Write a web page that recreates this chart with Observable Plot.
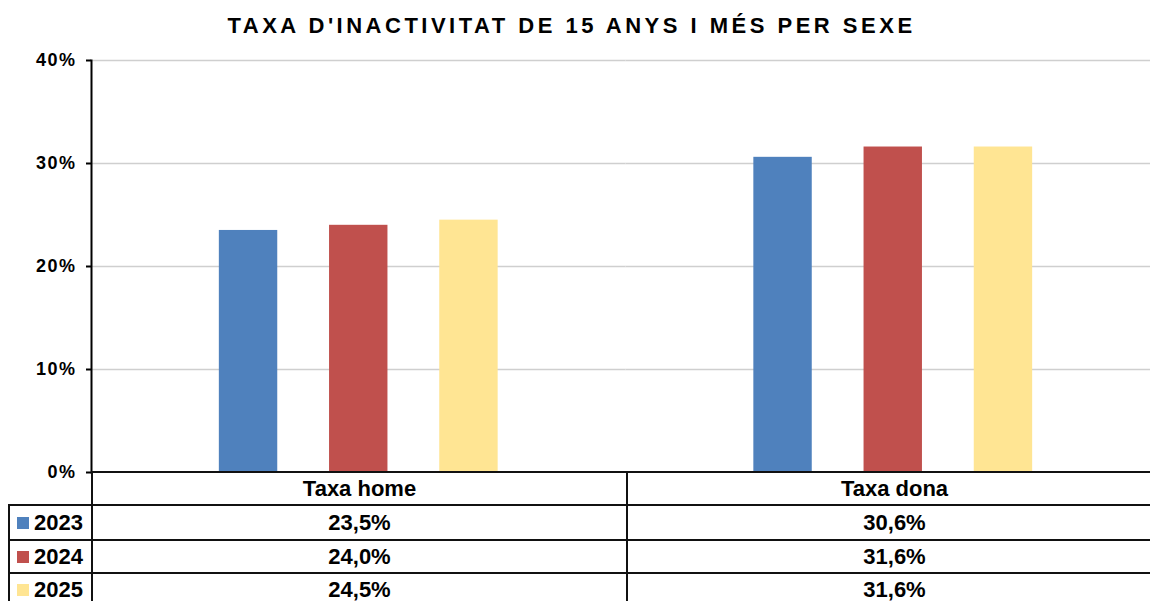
<!DOCTYPE html>
<html>
<head>
<meta charset="utf-8">
<script src="https://cdn.jsdelivr.net/npm/d3@7"></script>
<script src="https://cdn.jsdelivr.net/npm/@observablehq/plot@0.6"></script>
<style>
  html, body { margin: 0; padding: 0; background: #fff; overflow: hidden; }
  #wrap { position: relative; width: 1150px; height: 601px; overflow: hidden; font-family: "Liberation Sans", Arial, sans-serif; }
  #title { position: absolute; left: 0; top: 15px; width: 1143px; text-align: center; font-size: 22px; font-weight: bold; letter-spacing: 3.5px; color: #000; line-height: 22px; }
  #chart { position: absolute; left: 0; top: 40px; width: 1160px; }
  #chart svg { display: block; overflow: visible; max-width: none !important; }
  #chart svg [aria-label="y-axis tick label"] text { letter-spacing: 1.5px; }
  #tbl { position: absolute; left: 8px; top: 471px; width: 1153px; border-collapse: collapse; table-layout: fixed; font-family: "Liberation Sans", Arial, sans-serif; font-weight: bold; font-size: 22px; color: #000; }
  #tbl td { border: 2px solid #111; padding: 0; text-align: center; white-space: nowrap; overflow: hidden; }
  #tbl td.corner { border-top: none; border-left: none; }
  #tbl td.year { text-align: left; padding-left: 7px; }
  #tbl .sw { display: inline-block; width: 12px; height: 12px; margin-right: 5px; vertical-align: 1px; }
</style>
</head>
<body>
<div id="wrap">
  <div id="title"></div>
  <div id="chart"></div>
  <table id="tbl"></table>
</div>
<script>
const titleText = "TAXA D'INACTIVITAT DE 15 ANYS I MÉS PER SEXE";
const sexes = ["Taxa home", "Taxa dona"];
const years = ["2023", "2024", "2025"];
const taxaHome = [23.5, 24.0, 24.5];
const taxaDona = [30.6, 31.6, 31.6];
const yearColors = ["#4F81BD", "#C0504D", "#FFE593"];
const yTicks = [0, 10, 20, 30, 40];

document.getElementById("title").textContent = titleText;

const seriesBySex = {"Taxa home": taxaHome, "Taxa dona": taxaDona};
const data = [];
sexes.forEach(s => years.forEach((y, i) => data.push({sex: s, year: y, value: seriesBySex[s][i]})));

const M = {marginTop: 20, marginBottom: 18, marginLeft: 91, marginRight: 0};
const chart = Plot.plot({
  width: 1160,
  height: 450,
  ...M,
  style: {fontFamily: "Liberation Sans, Arial, sans-serif", fontSize: "18px", fontWeight: "bold", color: "#000", background: "transparent", maxWidth: "none"},
  fx: {domain: sexes, padding: 0, axis: null, round: false},
  x: {domain: years, paddingInner: 0.47, paddingOuter: 1.16, axis: null, round: false},
  y: {domain: [0, 40], axis: null},
  color: {domain: years, range: yearColors},
  marks: [
    Plot.gridY(yTicks.filter(d => d > 0), {stroke: "#cfcfcf", strokeOpacity: 1, strokeWidth: 1.6}),
    Plot.barY(data, {fx: "sex", x: "year", y: "value", fill: "year"}),
    Plot.axisY(yTicks, {...M, tickFormat: d => d + "%", tickSize: 5, tickPadding: 10, strokeWidth: 2, stroke: "#000", fill: "#000", fontSize: 18, fontWeight: "bold", label: null}),
    Plot.frame({...M, anchor: "left", facetAnchor: "left", stroke: "#000", strokeWidth: 2})
  ]
});
document.getElementById("chart").appendChild(chart);

// data table below the chart
const tbl = document.getElementById("tbl");
const colgroup = document.createElement("colgroup");
[83, 535, 535].forEach(w => { const c = document.createElement("col"); c.style.width = w + "px"; colgroup.appendChild(c); });
tbl.appendChild(colgroup);
const rowHeights = [33, 35, 33, 34];
const hr = document.createElement("tr");
hr.style.height = rowHeights[0] + "px";
const corner = document.createElement("td"); corner.className = "corner"; hr.appendChild(corner);
sexes.forEach(s => { const td = document.createElement("td"); td.textContent = s; hr.appendChild(td); });
tbl.appendChild(hr);
const fmt = v => v.toFixed(1).replace(".", ",") + "%";
years.forEach((y, i) => {
  const tr = document.createElement("tr");
  tr.style.height = rowHeights[i + 1] + "px";
  const td0 = document.createElement("td"); td0.className = "year";
  const sw = document.createElement("span"); sw.className = "sw"; sw.style.background = yearColors[i];
  td0.appendChild(sw); td0.appendChild(document.createTextNode(y));
  tr.appendChild(td0);
  sexes.forEach(s => { const td = document.createElement("td"); td.textContent = fmt(seriesBySex[s][i]); tr.appendChild(td); });
  tbl.appendChild(tr);
});
</script>
</body>
</html>
